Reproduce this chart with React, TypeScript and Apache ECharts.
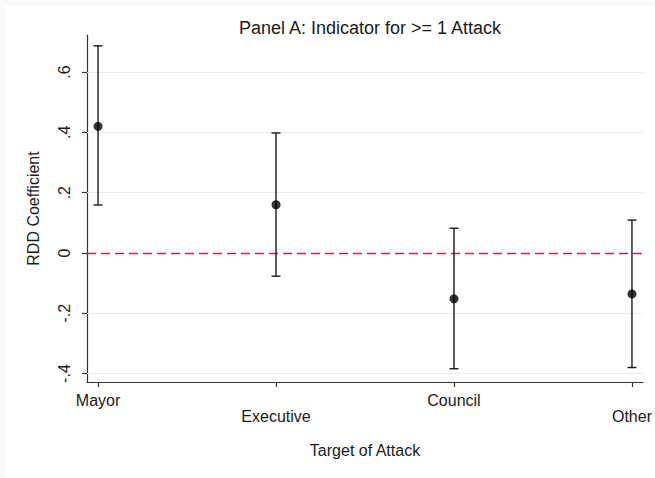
import React, { useEffect, useRef } from "react";
import * as echarts from "echarts";

const categories = ["Mayor", "Executive", "Council", "Other"];
const positions = [1, 2, 3, 4];
const estimates = [0.42, 0.16, -0.152, -0.136];
const lowerCI = [0.159, -0.077, -0.384, -0.38];
const upperCI = [0.687, 0.398, 0.082, 0.109];
const yTicks = [-0.4, -0.2, 0, 0.2, 0.4, 0.6];
const gridValues = [-0.4, -0.2, 0.2, 0.4, 0.6];

const FONT = "Liberation Sans, Arial, sans-serif";

function fmtY(v: number): string {
  const r = Math.round(v * 10) / 10;
  if (r === 0) return "0";
  return r.toFixed(1).replace("0.", ".");
}

export default function App() {
  const ref = useRef<HTMLDivElement>(null);
  useEffect(() => {
    if (!ref.current) return;
    const chart = echarts.init(ref.current, undefined, { renderer: "svg" });
    const errData = positions.map((p, i) => [p, lowerCI[i], upperCI[i]]);
    const ptData = positions.map((p, i) => [p, estimates[i]]);
    chart.setOption({
      animation: false,
      backgroundColor: "#f8f8f8",
      textStyle: { fontFamily: FONT },
      graphic: [
        {
          type: "rect",
          z: -10,
          shape: { x: 5, y: 5, width: 650, height: 473 },
          style: { fill: "#ffffff" },
          silent: true,
        },
      ],
      title: {
        text: "Panel A: Indicator for >= 1 Attack",
        left: 365,
        textAlign: "center",
        top: 14,
        textStyle: { fontFamily: FONT, fontSize: 18, fontWeight: "normal", color: "#1a1a1a" },
      },
      grid: { left: 87, right: 12, top: 35, bottom: 96, containLabel: false },
      xAxis: {
        type: "value",
        min: 0.938,
        max: 4.062,
        name: "Target of Attack",
        nameLocation: "middle",
        nameGap: 60,
        nameTextStyle: { fontFamily: FONT, fontSize: 16, color: "#1a1a1a" },
        axisLine: { show: true, onZero: false, lineStyle: { color: "#333", width: 1.2 } },
        axisTick: { show: true, length: 5, customValues: positions, lineStyle: { color: "#333", width: 1.2 } },
        axisLabel: {
          customValues: positions,
          margin: 10,
          fontFamily: FONT,
          fontSize: 16,
          color: "#1a1a1a",
          lineHeight: 16,
          formatter: (v: number) => {
            const i = positions.indexOf(Math.round(v));
            if (i < 0) return "";
            return i % 2 === 1 ? "\n" + categories[i] : categories[i];
          },
        },
        splitLine: { show: false },
      },
      yAxis: {
        type: "value",
        min: -0.428,
        max: 0.723,
        name: "RDD Coefficient",
        nameLocation: "middle",
        nameGap: 46,
        nameRotate: 90,
        nameTextStyle: { fontFamily: FONT, fontSize: 16, color: "#1a1a1a" },
        axisLine: { show: true, onZero: false, lineStyle: { color: "#333", width: 1.2 } },
        axisTick: { show: true, length: 5, customValues: yTicks, lineStyle: { color: "#333", width: 1.2 } },
        axisLabel: {
          customValues: yTicks,
          rotate: 90,
          margin: 15,
          fontFamily: FONT,
          fontSize: 16,
          color: "#1a1a1a",
          formatter: (v: number) => fmtY(v),
        },
        splitLine: { show: false },
      },
      series: [
        {
          type: "custom",
          name: "CI",
          data: errData,
          encode: { x: 0, y: [1, 2] },
          z: 3,
          renderItem: (params: any, api: any) => {
            const x = api.value(0);
            const lo = api.coord([x, api.value(1)]);
            const hi = api.coord([x, api.value(2)]);
            const hw = 4.5;
            const style = { stroke: "#1a1a1a", lineWidth: 1.4 };
            return {
              type: "group",
              children: [
                { type: "line", shape: { x1: lo[0], y1: lo[1], x2: hi[0], y2: hi[1] }, style },
                { type: "line", shape: { x1: lo[0] - hw, y1: lo[1], x2: lo[0] + hw, y2: lo[1] }, style },
                { type: "line", shape: { x1: hi[0] - hw, y1: hi[1], x2: hi[0] + hw, y2: hi[1] }, style },
              ],
            };
          },
        },
        {
          type: "scatter",
          name: "Estimate",
          data: ptData,
          symbol: "circle",
          symbolSize: 9,
          z: 4,
          itemStyle: { color: "#000000" },
          markLine: {
            silent: true,
            symbol: "none",
            label: { show: false },
            z: 1,
            data: [
              ...gridValues.map((v) => ({
                yAxis: v,
                lineStyle: { color: "#e6eef0", width: 1, type: "solid" },
              })),
              { yAxis: 0, lineStyle: { color: "#c2255a", width: 1.3, type: [9, 5] } },
            ],
          },
        },
      ],
    });
    return () => chart.dispose();
  }, []);
  return (
    <div
      ref={ref}
      style={{ position: "fixed", left: 0, top: 0, width: 655, height: 478 }}
    />
  );
}
